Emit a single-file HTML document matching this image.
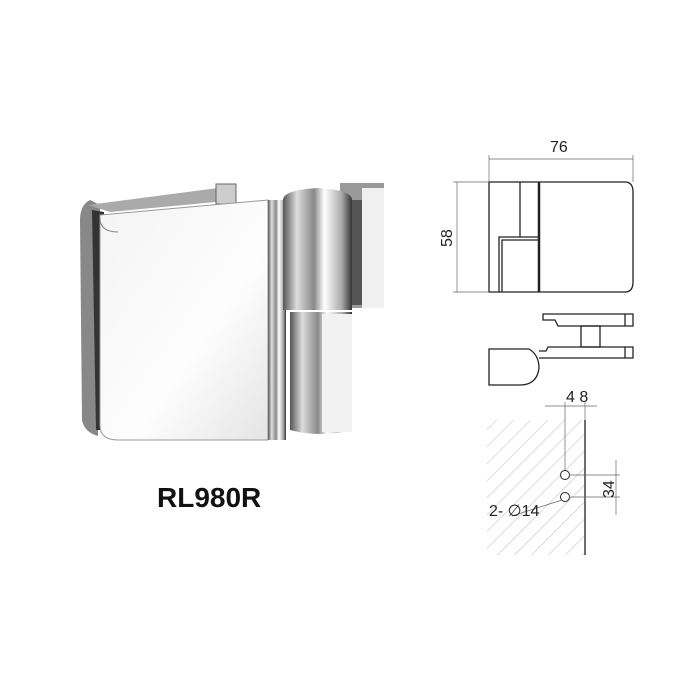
<!DOCTYPE html>
<html><head><style>body{margin:0;background:#fff}svg{display:block}</style></head><body>
<svg width="700" height="700" viewBox="0 0 700 700" xmlns="http://www.w3.org/2000/svg" font-family="Liberation Sans, sans-serif">
<defs>
<linearGradient id="bar" x1="0" x2="1"><stop offset="0" stop-color="#555"/><stop offset=".2" stop-color="#ddd"/><stop offset=".45" stop-color="#888"/><stop offset=".6" stop-color="#fff"/><stop offset=".85" stop-color="#aaa"/><stop offset="1" stop-color="#333"/></linearGradient>
<linearGradient id="face" x1="0" y1="0" x2="1" y2="1"><stop offset="0" stop-color="#f4f4f4"/><stop offset=".6" stop-color="#fdfdfd"/><stop offset="1" stop-color="#e4e4e4"/></linearGradient>
<pattern id="h" width="12" height="12" patternUnits="userSpaceOnUse" patternTransform="rotate(45)"><line x1="0" y1="0" x2="0" y2="12" stroke="#aaa" stroke-width="0.8"/></pattern>
</defs>
<!-- hinge photo -->
<path d="M90 200 Q80 205 80 220 L82 420 Q84 432 98 436 L100 205 Z" fill="#888"/>
<path d="M92 210 L96 430 L104 430 L104 212Z" fill="#333"/>
<path d="M88 205 L218 188 L236 186 L236 200 L110 212 Z" fill="#aaa"/>
<rect x="216" y="184" width="20" height="20" fill="#ccc" stroke="#666" stroke-width="1"/>
<path d="M100 215 L268 200 L268 440 L118 440 Q100 440 100 425 Z" fill="url(#face)" stroke="#999" stroke-width="1"/>
<path d="M100 218 Q100 232 118 232" fill="none" stroke="#888"/>
<rect x="268" y="200" width="18" height="240" fill="url(#bar)"/>
<rect x="340" y="183" width="44" height="125" fill="#999"/>
<rect x="362" y="188" width="22" height="120" fill="#f0f0f0"/>
<rect x="348" y="200" width="14" height="105" fill="#555"/>
<path d="M283 200 Q283 190 318 188 Q352 190 352 200 L352 310 L283 310 Z" fill="url(#bar)"/>
<path d="M290 312 L352 312 L352 430 Q320 438 290 430 Z" fill="url(#bar)"/>
<rect x="322" y="314" width="30" height="118" fill="#f2f2f2"/>
<!-- label -->
<text x="157" y="507" font-size="28" font-weight="bold" fill="#111">RL980R</text>
<!-- top view -->
<g fill="none" stroke="#222" stroke-width="1.3">
<path d="M489 182 L625 182 Q633 182 633 192 L633 282 Q633 292 625 292 L489 292 Z"/>
<line x1="520" y1="182" x2="520" y2="237"/>
<line x1="539" y1="182" x2="539" y2="292" stroke-width="2.5"/>
<path d="M499 292 L499 237 L539 237"/><path d="M502 292 L502 240 L539 240"/>
<!-- side view -->
<path d="M543 314 L633 314 L633 326 L558 326 L555 320 L543 320 Z"/>
<line x1="625" y1="314" x2="625" y2="326"/>
<rect x="581" y="326" width="19" height="21"/>
<path d="M539 358 L633 358 L633 347 L548 347 L546 351 L539 351"/>
<line x1="625" y1="347" x2="625" y2="358"/>
<path d="M489 349 L529 349 Q539 355 539 368 Q537 385 520 385 L489 385 Z"/>
</g>
<rect x="487" y="420" width="98" height="135" fill="url(#h)"/>
<line x1="585" y1="420" x2="585" y2="555" stroke="#222" stroke-width="1.3"/>
<circle cx="565" cy="475" r="4.5" fill="#fff" stroke="#222"/><circle cx="565" cy="497" r="4.5" fill="#fff" stroke="#222"/>
<g stroke="#666" stroke-width=".7" fill="none">
<line x1="489" y1="159" x2="633" y2="159"/><line x1="489" y1="155" x2="489" y2="182"/><line x1="633" y1="155" x2="633" y2="182"/>
<line x1="457" y1="182" x2="457" y2="292"/><line x1="453" y1="182" x2="489" y2="182"/><line x1="453" y1="292" x2="489" y2="292"/>
<line x1="545" y1="406" x2="597" y2="406"/><line x1="565" y1="402" x2="565" y2="470"/><line x1="585" y1="402" x2="585" y2="420"/>
<line x1="569" y1="475" x2="620" y2="475"/><line x1="569" y1="497" x2="620" y2="497"/><line x1="616" y1="460" x2="616" y2="515"/>
<line x1="512" y1="516" x2="562" y2="500"/>
</g>
<g fill="#222" font-size="16">
<text x="550" y="152">76</text>
<text transform="translate(452 247) rotate(-90)">58</text>
<text x="566" y="402">4 8</text>
<text transform="translate(614 498) rotate(-90)">34</text>
<text x="489" y="516">2- ∅14</text>
</g>
</svg>
</body></html>
